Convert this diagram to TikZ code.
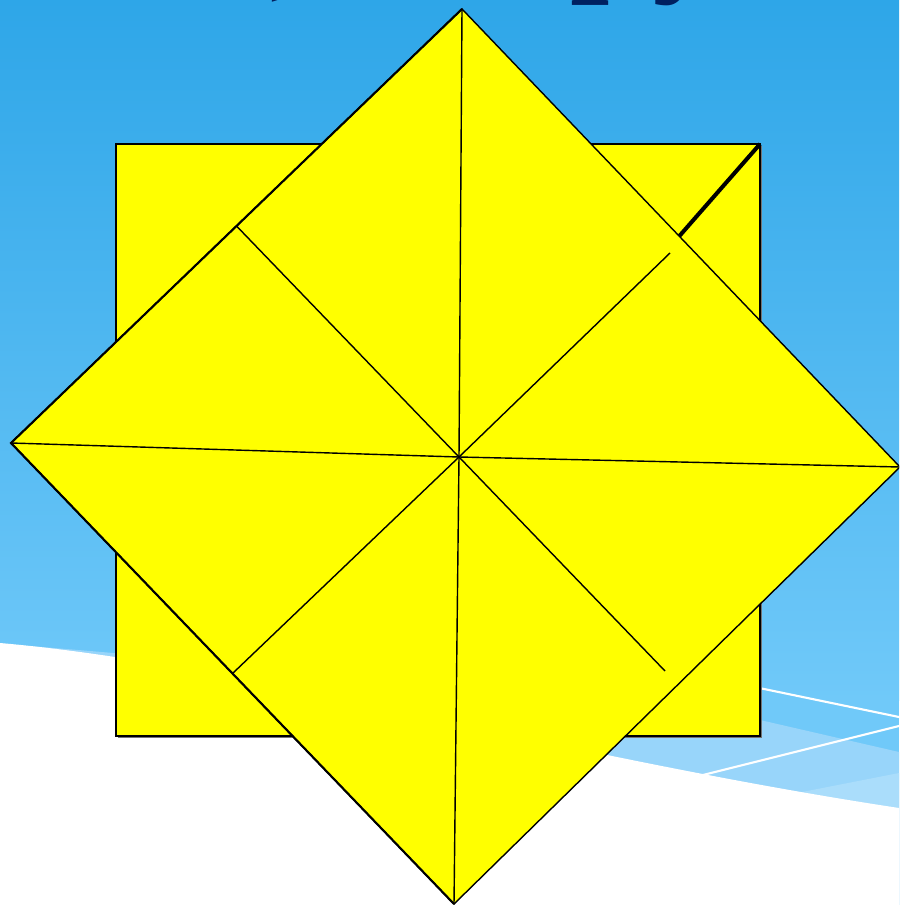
\documentclass[tikz,border=0pt]{standalone}
\usepackage{fontspec}
\setmainfont{Liberation Serif}
\usetikzlibrary{calc}

\definecolor{skytop}{RGB}{46,166,232}
\definecolor{skybottom}{RGB}{112,201,249}
\definecolor{bandlight}{RGB}{152,213,250}
\definecolor{bandpale}{RGB}{170,221,251}
\definecolor{titlenavy}{RGB}{0,32,96}
\definecolor{paperyellow}{RGB}{255,255,0}

\begin{document}
\begin{tikzpicture}[x=0.02cm, y=-0.02cm,
    % Define the styles for the paper and the folds
    paper/.style={fill=paperyellow, draw=black, line width=0.8pt},
    edge/.style={draw=black, line width=1.2pt},
    fold/.style={draw=black, line width=0.8pt},
    crease/.style={draw=black, line width=2.3pt},
    titlepart/.style={text=titlenavy, font=\fontsize{80}{90}\selectfont\bfseries,
        inner sep=0pt, anchor=base west}
]
\useasboundingbox (0,0) rectangle (899,905);
\clip (0,0) rectangle (899,905);

% Draw the background
\shade[top color=skytop, bottom color=skybottom] (0,0) rectangle (899,700);
\fill[skybottom] (0,699) rectangle (899,905);
\fill[bandlight] (30,646) .. controls (300,668) and (600,700) .. (760,720)
    -- (899,752) -- (899,905) -- (0,905) -- cycle;
\fill[bandpale] (797,793) -- (899,773) -- (899,905) -- (700,905) -- cycle;
\fill[white] (0,643) .. controls (250,665) and (550,755) .. (899,808)
    -- (899,905) -- (0,905) -- cycle;
\draw[white, line width=1.2pt] (740,684) -- (899,717);
\draw[white, line width=1.2pt] (695,777) -- (899,726);

% Define the points of the square and the diamond
\coordinate (S1) at (116,144);
\coordinate (S2) at (760,736);
\coordinate (S) at (760,144);
\coordinate (T) at (462,9);
\coordinate (L) at (11,443);
\coordinate (R) at (900,467);
\coordinate (B) at (454,904);
\coordinate (O) at (459,457);

% Ends of the folds
\coordinate (M1) at ($(T)!0.5!(L)$);
\coordinate (M2) at ($(L)!0.5!(B)$);
\coordinate (M3) at (670,253);
\coordinate (M4) at (665,671);
\coordinate (K) at ($(T)!0.496!(R)$);

% Draw the square
\fill[black!55] ($(S1)+(2,2)$) rectangle ($(S2)+(2,2)$);
\draw[paper] (S1) rectangle (S2);

% Draw the diamond
\filldraw[paper] (T) -- (R) -- (B) -- (L) -- cycle;
\draw[edge] (T) -- (L) -- (B);

% Draw the folds
\draw[fold] (O) -- (T);
\draw[fold] (O) -- (B);
\draw[fold] (O) -- (L);
\draw[fold] (O) -- (R);
\draw[fold] (M1) -- (O) -- (M4);
\draw[fold] (M3) -- (O) -- (M2);
\draw[crease] (S) -- (K);

% Add the cut off title
\node[titlepart] (comma) at (270,-19) {,};
\node[titlepart] (letp) at (570,-24) {p};
\node[titlepart] (lety) at (652,-24) {y};

\end{tikzpicture}
\end{document}
